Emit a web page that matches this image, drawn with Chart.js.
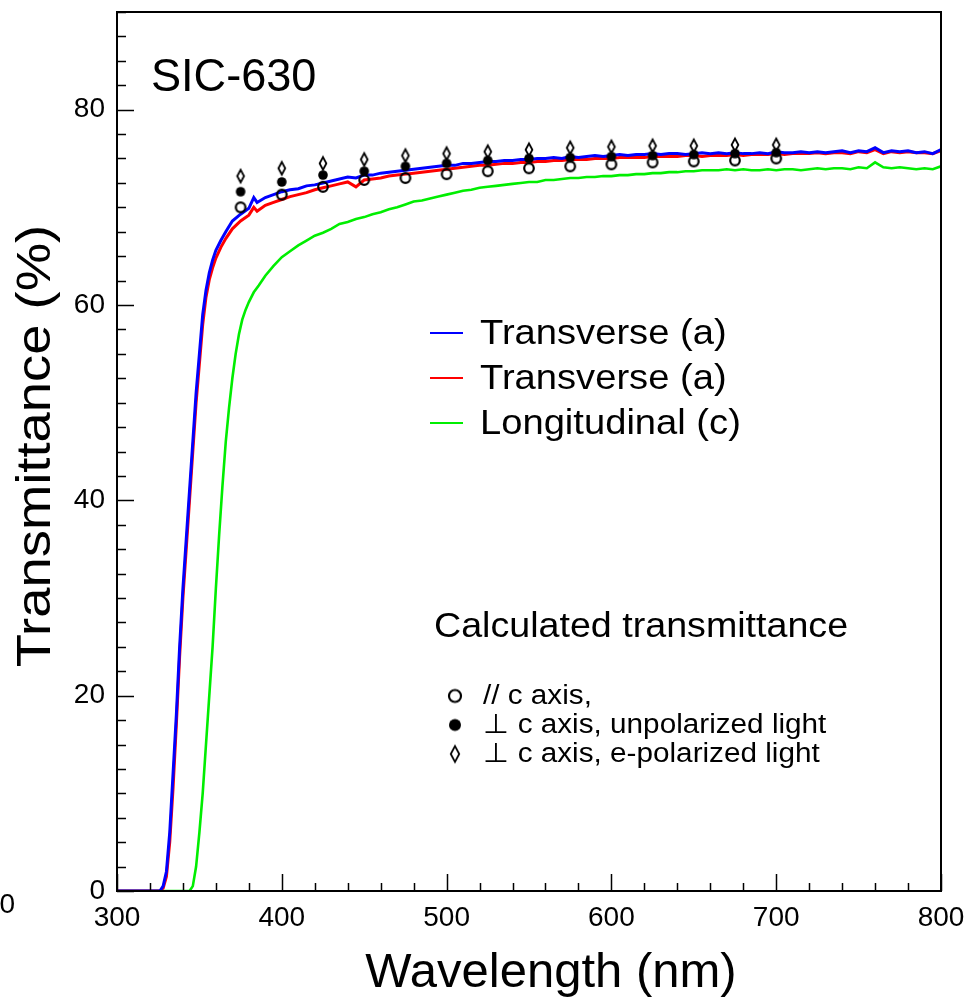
<!DOCTYPE html>
<html>
<head>
<meta charset="utf-8">
<script src="https://cdn.jsdelivr.net/npm/chart.js@4.4.0/dist/chart.umd.min.js"></script>
<style>
    body { margin: 0; background: #fff; }
    canvas { display: block; }
</style>
</head>
<body>
<canvas id="myChart" width="969" height="999"></canvas>
<script>
// measured spectra (wavelength nm -> transmittance %)
var wBlueWl = [300, 326, 328, 330, 332, 334, 336, 338, 340, 342, 344, 346, 348, 350, 352, 354, 356, 358, 360, 363, 366, 370, 375, 380, 383, 385, 390, 395,
    400, 405, 410, 415, 420, 425, 430, 435, 440, 445, 450, 455, 460, 465, 470, 475, 480, 485, 490, 495, 500, 505, 510, 515, 520, 525, 530, 535, 540, 545, 550, 555, 560, 565, 570, 575, 580, 585, 590, 595,
    600, 605, 610, 615, 620, 625, 630, 635, 640, 645, 650, 655, 660, 665, 670, 675, 680, 685, 690, 695, 700, 705, 710, 715, 720, 725, 730, 735, 740, 745, 750, 755, 760, 765, 770, 775, 780, 785, 790, 795, 800]
var wBlueT = [0, 0, 0.5, 2, 6, 12, 18, 25, 31, 36, 41, 46, 51, 55, 59, 61.5, 63.3, 64.6, 65.6, 66.6, 67.5, 68.6, 69.3, 69.9, 71.0, 70.5, 71.0, 71.3,
    71.6, 71.8, 71.9, 72.2, 72.3, 72.5, 72.7, 72.9, 73.1, 73.0, 73.3, 73.3, 73.5, 73.6, 73.7, 73.8, 73.9, 74.0, 74.1, 74.2, 74.3, 74.3, 74.5, 74.5, 74.6, 74.7, 74.7, 74.8, 74.8, 74.9, 74.9, 75.0, 75.0, 75.1, 75.0, 75.2, 75.1, 75.2, 75.3, 75.2,
    75.3, 75.4, 75.3, 75.4, 75.4, 75.5, 75.4, 75.5, 75.5, 75.4, 75.5, 75.6, 75.5, 75.6, 75.5, 75.6, 75.5, 75.5, 75.6, 75.5, 75.7, 75.6, 75.6, 75.7, 75.6, 75.7, 75.6, 75.7, 75.8, 75.6, 75.8, 75.7, 76.1, 75.6, 75.8, 75.7, 75.8, 75.6, 75.7, 75.5, 75.9]

var wRedWl = wBlueWl
var wRedT = [0, 0, 0.3, 1.5, 5, 10.5, 17, 24, 30, 35, 40, 45, 50, 54, 58, 60.8, 62.6, 63.8, 64.8, 65.9, 66.8, 67.8, 68.6, 69.2, 70.0, 69.6, 70.2, 70.5,
    70.8, 71.1, 71.3, 71.5, 71.8, 72.0, 72.2, 72.4, 72.6, 72.1, 72.8, 72.9, 73.0, 73.2, 73.3, 73.4, 73.5, 73.6, 73.7, 73.8, 73.9, 74.0, 74.1, 74.2, 74.3, 74.3, 74.4, 74.5, 74.5, 74.6, 74.6, 74.7, 74.7, 74.8, 74.8, 74.9, 74.9, 74.9, 75.0, 75.0,
    75.0, 75.1, 75.1, 75.1, 75.1, 75.2, 75.2, 75.2, 75.2, 75.3, 75.3, 75.2, 75.3, 75.3, 75.3, 75.4, 75.3, 75.4, 75.4, 75.4, 75.5, 75.4, 75.5, 75.5, 75.5, 75.6, 75.5, 75.6, 75.6, 75.5, 75.7, 75.6, 75.9, 75.5, 75.7, 75.6, 75.7, 75.6, 75.6, 75.5, 75.8]

var wGreenWl = [300, 344, 346, 348, 350, 352, 354, 356, 358, 360, 362, 364, 366, 368, 370, 372, 374, 376, 378, 380, 383, 386, 390, 395,
    400, 405, 410, 415, 420, 425, 430, 435, 440, 445, 450, 455, 460, 465, 470, 475, 480, 485, 490, 495, 500, 505, 510, 515, 520, 525, 530, 535, 540, 545, 550, 555, 560, 565, 570, 575, 580, 585, 590, 595,
    600, 605, 610, 615, 620, 625, 630, 635, 640, 645, 650, 655, 660, 665, 670, 675, 680, 685, 690, 695, 700, 705, 710, 715, 720, 725, 730, 735, 740, 745, 750, 755, 760, 765, 770, 775, 780, 785, 790, 795, 800]
var wGreenT = [0, 0, 0.5, 2.5, 6, 10, 15, 20, 25, 31, 36.5, 41.5, 46, 49.5, 52.5, 55, 57, 58.5, 59.5, 60.3, 61.3, 62, 63, 64,
    64.9, 65.5, 66.1, 66.6, 67.1, 67.4, 67.8, 68.3, 68.5, 68.8, 69.0, 69.3, 69.5, 69.8, 70.0, 70.3, 70.6, 70.7, 70.9, 71.1, 71.3, 71.5, 71.7, 71.8, 72.0, 72.1, 72.2, 72.3, 72.4, 72.5, 72.6, 72.6, 72.8, 72.8, 72.9, 73.0, 73.0, 73.1, 73.1, 73.2,
    73.2, 73.3, 73.3, 73.4, 73.4, 73.5, 73.5, 73.6, 73.6, 73.7, 73.7, 73.8, 73.8, 73.8, 73.9, 73.8, 73.9, 73.8, 73.8, 73.9, 73.8, 73.9, 73.9, 73.8, 73.9, 74.0, 73.9, 74.0, 74.0, 73.9, 74.1, 74.0, 74.6, 74.1, 74.0, 74.1, 74.0, 73.9, 74.0, 73.9, 74.2]

// calculated transmittance
var wCalcWl = [375, 400, 425, 450, 475, 500, 525, 550, 575, 600, 625, 650, 675, 700]
var wParC = [70.0, 71.3, 72.1, 72.8, 73.0, 73.4, 73.7, 74.0, 74.2, 74.4, 74.6, 74.7, 74.8, 75.0]
var wPerpUnpol = [71.6, 72.6, 73.3, 73.7, 74.2, 74.5, 74.8, 75.0, 75.1, 75.2, 75.3, 75.4, 75.5, 75.6]
var wPerpEpol = [73.2, 74.0, 74.5, 74.9, 75.3, 75.5, 75.7, 75.9, 76.1, 76.2, 76.3, 76.3, 76.4, 76.4]

var wXTicks = [300, 400, 500, 600, 700, 800]
var wYTicks = [0, 20, 40, 60, 80]

var wLineLabels = ['Transverse (a)', 'Transverse (a)', 'Longitudinal (c)']
var wLineColors = ['#0000ff', '#ff0000', '#00ee00']
var wCalcLabels = ['// c axis,', '\u22A5 c axis, unpolarized light', '\u22A5 c axis, e-polarized light']

var wFont = '"Liberation Sans", Arial, Helvetica, sans-serif'

function toXY(wl, t) {
    return wl.map((x, i) => ({ x: x, y: t[i] }))
}

// text a bit wider than Liberation Sans, like the original
function wideText(ctx, txt, x, y, size, sx, align) {
    ctx.save()
    ctx.font = size + 'px ' + wFont
    ctx.textAlign = align || 'left'
    ctx.translate(x, y)
    ctx.scale(sx, 1)
    ctx.fillText(txt, 0, 0)
    ctx.restore()
}

function makeMarker(kind, big) {
    var s = big ? 1.25 : 1
    var c = document.createElement('canvas')
    c.width = Math.round(16 * s)
    c.height = Math.round(18 * s)
    var g = c.getContext('2d')
    var cx = c.width / 2, cy = c.height / 2
    g.strokeStyle = '#000'
    g.fillStyle = '#000'
    if (kind == 'open') {
        g.lineWidth = 2.2
        g.beginPath(); g.arc(cx, cy, 4.8 * s, 0, Math.PI * 2); g.stroke()
    } else if (kind == 'fill') {
        g.beginPath(); g.arc(cx, cy, 4.8 * s, 0, Math.PI * 2); g.fill()
    } else {
        g.lineWidth = 1.8
        g.beginPath()
        g.moveTo(cx, cy - 6.3 * s); g.lineTo(cx + 3.4 * s, cy); g.lineTo(cx, cy + 6.3 * s); g.lineTo(cx - 3.4 * s, cy)
        g.closePath(); g.stroke()
    }
    return c
}

var wMarkers = [makeMarker('open'), makeMarker('fill'), makeMarker('diamond')]
var wLegMarkers = [makeMarker('open', true), makeMarker('fill', true), makeMarker('diamond', true)]

function noScalePad(s) {
    s.paddingTop = 0
    s.paddingBottom = 0
    s.paddingLeft = 0
    s.paddingRight = 0
}

var framePlugin = {
    id: 'frame',
    afterDraw: function (chart) {
        var ctx = chart.ctx
        var a = chart.chartArea
        var xs = chart.scales.x, ys = chart.scales.y
        ctx.save()
        ctx.strokeStyle = '#000'
        ctx.lineWidth = 2
        ctx.strokeRect(a.left, a.top, a.right - a.left, a.bottom - a.top)
        // inward ticks
        ctx.lineWidth = 1.5
        ctx.beginPath()
        for (var v = 300; v <= 800; v += 20) {
            var px = Math.round(xs.getPixelForValue(v)) + 0.5
            var len = (v % 100 == 0) ? 17 : 8
            ctx.moveTo(px, a.bottom); ctx.lineTo(px, a.bottom - len)
        }
        for (var t = 0; t <= 90; t += 2.5) {
            var py = Math.round(ys.getPixelForValue(t)) + 0.5
            var l2 = (t % 20 == 0) ? 17 : 9
            ctx.moveTo(a.left, py); ctx.lineTo(a.left + l2, py)
        }
        ctx.stroke()

        ctx.fillStyle = '#000'
        ctx.textBaseline = 'alphabetic'
        wideText(ctx, 'SIC-630', 151, 91, 46, 0.98)

        // line legend
        ctx.textBaseline = 'middle'
        for (var i = 0; i < wLineLabels.length; i++) {
            var ly = 333 + i * 45
            ctx.strokeStyle = wLineColors[i]
            ctx.lineWidth = 2
            ctx.beginPath(); ctx.moveTo(430, ly); ctx.lineTo(463, ly); ctx.stroke()
            wideText(ctx, wLineLabels[i], 480, ly + 1, 35, 1.09)
        }

        wideText(ctx, 'Calculated transmittance', 434, 627, 35, 1.075)
        var rows = [696, 725, 754]
        for (var j = 0; j < wCalcLabels.length; j++) {
            var m = wLegMarkers[j]
            ctx.drawImage(m, 455 - m.width / 2, rows[j] - m.height / 2)
            wideText(ctx, wCalcLabels[j], 483, rows[j] + 1, 27, 1.1)
        }

        // axis titles
        ctx.textBaseline = 'alphabetic'
        wideText(ctx, 'Wavelength (nm)', 551, 987, 49, 1.0, 'center')
        ctx.save()
        ctx.translate(50, 446)
        ctx.rotate(-Math.PI / 2)
        wideText(ctx, 'Transmittance (%)', 0, 0, 49, 1.11, 'center')
        ctx.restore()

        ctx.textBaseline = 'middle'
        wideText(ctx, '0', 15, 905, 28, 1.0, 'right')
        ctx.restore()
    }
}

var ctx = document.getElementById('myChart').getContext('2d')
var myChart = new Chart(ctx, {
    type: 'scatter',
    data: {
        datasets: [
            { label: wCalcLabels[0], data: toXY(wCalcWl, wParC), pointStyle: wMarkers[0], showLine: false },
            { label: wCalcLabels[1], data: toXY(wCalcWl, wPerpUnpol), pointStyle: wMarkers[1], showLine: false },
            { label: wCalcLabels[2], data: toXY(wCalcWl, wPerpEpol), pointStyle: wMarkers[2], showLine: false },
            { label: wLineLabels[0], data: toXY(wBlueWl, wBlueT), showLine: true, borderColor: wLineColors[0], borderWidth: 3, pointRadius: 0, tension: 0 },
            { label: wLineLabels[1], data: toXY(wRedWl, wRedT), showLine: true, borderColor: wLineColors[1], borderWidth: 3, pointRadius: 0, tension: 0 },
            { label: wLineLabels[2], data: toXY(wGreenWl, wGreenT), showLine: true, borderColor: wLineColors[2], borderWidth: 2.6, pointRadius: 0, tension: 0 }
        ]
    },
    options: {
        responsive: false,
        animation: false,
        layout: { padding: { top: 12, right: 28, left: 0, bottom: 0 } },
        plugins: { legend: { display: false }, tooltip: { enabled: false } },
        scales: {
            x: {
                type: 'linear', min: 300, max: 800,
                afterFit: function (s) { s.height = 108; noScalePad(s) },
                afterBuildTicks: function (s) { s.ticks = wXTicks.map(v => ({ value: v })) },
                grid: { display: false, drawTicks: false },
                border: { display: false },
                ticks: { color: '#000', padding: 10, maxRotation: 0, font: { family: wFont, size: 28 } }
            },
            y: {
                type: 'linear', min: 0, max: 90,
                afterFit: function (s) { s.width = 117; noScalePad(s) },
                afterBuildTicks: function (s) { s.ticks = wYTicks.map(v => ({ value: v })) },
                grid: { display: false, drawTicks: false },
                border: { display: false },
                ticks: { color: '#000', padding: 12, font: { family: wFont, size: 28 } }
            }
        }
    },
    plugins: [framePlugin]
})
</script>
</body>
</html>
